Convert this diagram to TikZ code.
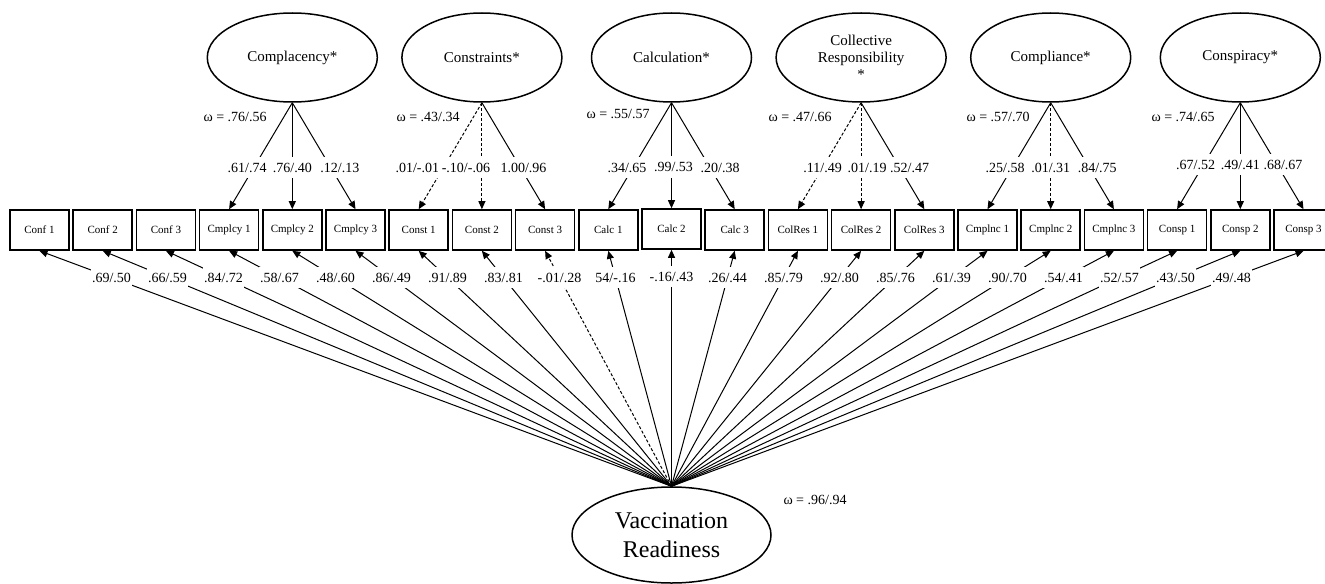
\documentclass[tikz,border=0pt]{standalone}
\usepackage{fontspec}
\setmainfont{Liberation Serif}
\usetikzlibrary{arrows.meta,shapes.geometric}

\begin{document}
\begin{tikzpicture}[x=0.5pt, y=-0.5pt,
  item/.style={draw, line width=.8pt, inner sep=0pt, minimum width=29.5pt,
    minimum height=20pt, font=\fontsize{5.5}{6}\selectfont},
  factor/.style={draw, ellipse, line width=.75pt, inner sep=0pt, minimum width=80pt,
    minimum height=44.5pt, align=center, font=\fontsize{7.5}{8.5}\selectfont},
  arr/.style={-{Triangle[length=4pt,width=3.5pt]}, line width=.5pt},
  weak/.style={dash pattern=on 1.5pt off 1pt},
  coef/.style={fill=white, inner xsep=.5pt, inner ysep=3pt, font=\fontsize{7}{8}\selectfont},
  rel/.style={inner sep=0pt, anchor=east, font=\fontsize{7}{8}\selectfont}]
  \useasboundingbox (0,0) rectangle (1325,583);

  % observed items
  \node[item] (conf1) at (39.5,230) {Conf 1};
  \node[item] (conf2) at (102.7,230) {Conf 2};
  \node[item] (conf3) at (165.9,230) {Conf 3};
  \node[item] (cmp1) at (229.1,230) {Cmplcy 1};
  \node[item] (cmp2) at (292.3,230) {Cmplcy 2};
  \node[item] (cmp3) at (355.5,230) {Cmplcy 3};
  \node[item] (con1) at (418.7,230) {Const 1};
  \node[item] (con2) at (481.9,230) {Const 2};
  \node[item] (con3) at (545.1,230) {Const 3};
  \node[item] (cal1) at (608.3,230) {Calc 1};
  \node[item] (cal2) at (671.5,229) {Calc 2};
  \node[item] (cal3) at (734.7,230) {Calc 3};
  \node[item] (col1) at (797.9,230) {ColRes 1};
  \node[item] (col2) at (861.1,230) {ColRes 2};
  \node[item] (col3) at (924.3,230) {ColRes 3};
  \node[item] (cpl1) at (987.5,230) {Cmplnc 1};
  \node[item] (cpl2) at (1050.7,230) {Cmplnc 2};
  \node[item] (cpl3) at (1113.9,230) {Cmplnc 3};
  \node[item] (csp1) at (1177.1,230) {Consp 1};
  \node[item] (csp2) at (1240.3,230) {Consp 2};
  \node[item] (csp3) at (1303.5,230) {Consp 3};

  % specific factors
  \node[factor, minimum width=85pt] (Cmp) at (292.3,57.5) {Complacency*};
  \node[factor] (Con) at (481.9,57.5) {Constraints*};
  \node[factor] (Cal) at (671.5,57.5) {Calculation*};
  \node[factor, minimum width=85pt] (Col) at (861.1,57.5) {Collective\\Responsibility\\*};
  \node[factor] (Cpl) at (1050.7,57.5) {Compliance*};
  \node[factor] (Csp) at (1240.3,57.5) {Conspiracy*};

  \node[rel] (wCmp) at (267,117) {ω = .76/.56};
  \node[rel] (wCon) at (460,117) {ω = .43/.34};
  \node[rel] (wCal) at (650,114) {ω = .55/.57};
  \node[rel] (wCol) at (832,117) {ω = .47/.66};
  \node[rel] (wCpl) at (1030,117) {ω = .57/.70};
  \node[rel] (wCsp) at (1215,117) {ω = .74/.65};

  \draw[arr] (Cmp.south) -- node[coef,pos=.61,xshift=-3.3pt] {.61/.74} (cmp1.north);
  \draw[arr] (Cmp.south) -- node[coef,pos=.61] {.76/.40} (cmp2.north);
  \draw[arr] (Cmp.south) -- node[coef,pos=.61,xshift=4.5pt] {.12/.13} (cmp3.north);

  \draw[arr,weak] (Con.south) -- node[coef,pos=.61,xshift=-13pt] {.01/-.01} (con1.north);
  \draw[arr,weak] (Con.south) -- node[coef,pos=.61,xshift=-8pt,inner xsep=2pt] {-.10/-.06} (con2.north);
  \draw[arr] (Con.south) -- node[coef,pos=.61,xshift=1.5pt] {1.00/.96} (con3.north);

  \draw[arr] (Cal.south) -- node[coef,pos=.61,xshift=-3pt] {.34/.65} (cal1.north);
  \draw[arr] (Cal.south) -- node[coef,pos=.61,xshift=1pt] {.99/.53} (cal2.north);
  \draw[arr] (Cal.south) -- node[coef,pos=.61,xshift=5pt] {.20/.38} (cal3.north);

  \draw[arr,weak] (Col.south) -- node[coef,pos=.61] {.11/.49} (col1.north);
  \draw[arr,weak] (Col.south) -- node[coef,pos=.61,xshift=3pt] {.01/.19} (col2.north);
  \draw[arr] (Col.south) -- node[coef,pos=.61,xshift=5pt] {.52/.47} (col3.north);

  \draw[arr] (Cpl.south) -- node[coef,pos=.61,xshift=-3.5pt] {.25/.58} (cpl1.north);
  \draw[arr,weak] (Cpl.south) -- node[coef,pos=.61] {.01/.31} (cpl2.north);
  \draw[arr] (Cpl.south) -- node[coef,pos=.61,xshift=4pt] {.84/.75} (cpl3.north);

  \draw[arr] (Csp.south) -- node[coef,pos=.58,xshift=-4pt] {.67/.52} (csp1.north);
  \draw[arr] (Csp.south) -- node[coef,pos=.58] {.49/.41} (csp2.north);
  \draw[arr] (Csp.south) -- node[coef,pos=.58,xshift=3pt] {.68/.67} (csp3.north);

  % general factor
  \node[factor, minimum width=99.5pt, minimum height=48pt,
    font=\fontsize{12}{14.5}\selectfont] (VR) at (671.5,535) {Vaccination\\Readiness};
  \node[rel, anchor=center] (wVR) at (815,500) {ω = .96/.94};

  \draw[arr] (VR.north) -- node[coef,pos=.886] {.69/.50} (conf1.south);
  \draw[arr] (VR.north) -- node[coef,pos=.886] {.66/.59} (conf2.south);
  \draw[arr] (VR.north) -- node[coef,pos=.886] {.84/.72} (conf3.south);
  \draw[arr] (VR.north) -- node[coef,pos=.886] {.58/.67} (cmp1.south);
  \draw[arr] (VR.north) -- node[coef,pos=.886] {.48/.60} (cmp2.south);
  \draw[arr] (VR.north) -- node[coef,pos=.886] {.86/.49} (cmp3.south);
  \draw[arr] (VR.north) -- node[coef,pos=.886] {.91/.89} (con1.south);
  \draw[arr] (VR.north) -- node[coef,pos=.886] {.83/.81} (con2.south);
  \draw[arr,weak] (VR.north) -- node[coef,pos=.886] {-.01/.28} (con3.south);
  \draw[arr] (VR.north) -- node[coef,pos=.886] {54/-.16} (cal1.south);
  \draw[arr] (VR.north) -- node[coef,pos=.886] {-.16/.43} (cal2.south);
  \draw[arr] (VR.north) -- node[coef,pos=.886] {.26/.44} (cal3.south);
  \draw[arr] (VR.north) -- node[coef,pos=.886] {.85/.79} (col1.south);
  \draw[arr] (VR.north) -- node[coef,pos=.886] {.92/.80} (col2.south);
  \draw[arr] (VR.north) -- node[coef,pos=.886] {.85/.76} (col3.south);
  \draw[arr] (VR.north) -- node[coef,pos=.886] {.61/.39} (cpl1.south);
  \draw[arr] (VR.north) -- node[coef,pos=.886] {.90/.70} (cpl2.south);
  \draw[arr] (VR.north) -- node[coef,pos=.886] {.54/.41} (cpl3.south);
  \draw[arr] (VR.north) -- node[coef,pos=.886] {.52/.57} (csp1.south);
  \draw[arr] (VR.north) -- node[coef,pos=.886] {.43/.50} (csp2.south);
  \draw[arr] (VR.north) -- node[coef,pos=.886] {.49/.48} (csp3.south);
\end{tikzpicture}
\end{document}
